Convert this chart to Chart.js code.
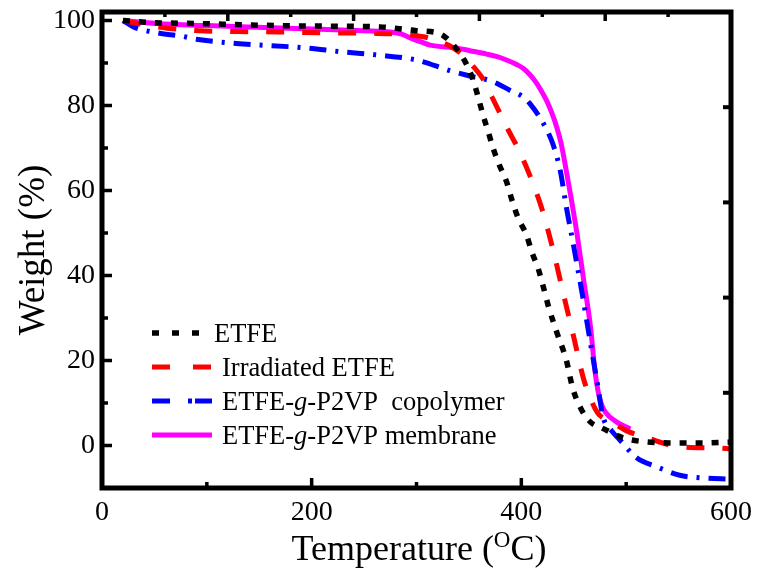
<!DOCTYPE html>
<html>
<head>
<meta charset="utf-8">
<script src="https://cdn.jsdelivr.net/npm/chart.js@4.4.0/dist/chart.umd.min.js"></script>
<style>
  html, body { margin: 0; padding: 0; background: #fff; }
  #wrap { width: 757px; height: 574px; position: relative; }
</style>
</head>
<body>
<div id="wrap"><canvas id="c"></canvas></div>
<script>
// ---- data (temperature in °C, weight in %) ----
const etfeT = [20, 50, 90, 150, 200, 265, 300, 322, 336, 346, 354, 359, 364, 368, 373, 379, 386, 391, 397, 405, 410, 416, 421, 426, 434, 443, 449, 457, 466, 477, 497, 513, 545, 575, 600];
const etfeW = [100, 99.5, 99.3, 98.9, 98.7, 98.5, 97.6, 96.9, 94, 90.5, 86, 81.8, 77.3, 74.2, 70, 66, 62, 57.8, 53.5, 49.5, 45.5, 41.7, 37.3, 32.6, 26.5, 20, 13.5, 8.6, 5.5, 4.1, 1.8, 1.0, 0.6, 0.6, 0.8];

const irrT = [20, 40, 62, 93, 128, 167, 210, 256, 294, 310, 322, 332, 342, 353, 364, 372, 380, 388, 396, 404, 411, 420, 431, 440, 450, 459, 466, 473, 480, 488, 500, 520, 551, 587, 600];
const irrW = [100, 99, 98.2, 97.6, 97.4, 97.3, 97.1, 97, 96.6, 96, 95, 94, 92.3, 89.5, 86, 82, 78, 74, 70.3, 66, 61.7, 55.4, 45.3, 35.8, 25.5, 16, 11, 7.6, 6.2, 5.2, 3.5, 1.8, -0.3, -0.6, -0.8];

const copT = [20, 30, 55, 74, 90, 128, 192, 230, 262, 300, 332, 350, 373, 389, 402, 408, 421, 430, 437, 443, 450, 458, 466, 472, 478, 486, 494, 510, 529, 551, 571, 600];
const copW = [100, 98.5, 97, 96.4, 95.6, 94.6, 93.6, 92.6, 91.9, 90.7, 88.2, 87, 85.6, 83.6, 82, 80.5, 75.8, 71, 64.8, 56, 46.8, 35.8, 24, 15.4, 6.7, 3.5, 1.3, -2.9, -5, -7, -7.6, -7.9];

const memT = [20, 52, 100, 148, 200, 250, 275, 286, 294, 306, 313, 339, 351, 367, 377, 387, 396, 402, 408, 413, 418, 424, 429, 434, 438, 443, 448, 453, 459, 466, 470, 473, 476, 480, 491, 504];
const memW = [100, 99.3, 98.8, 98.4, 98, 97.6, 97.3, 96.8, 95.9, 94.8, 94.2, 93.5, 92.9, 92.1, 91.5, 90.6, 89.6, 88.7, 87.3, 85.8, 83.9, 81.2, 78.3, 74.7, 71, 64.5, 57.5, 50, 39.7, 27.9, 18, 13, 10, 7.9, 5.5, 3.9];

const seriesNames = ['ETFE', 'Irradiated ETFE', 'ETFE-g-P2VP  copolymer', 'ETFE-g-P2VP membrane'];

// tick values
const xTicks = [0, 200, 400, 600];
const xMinorTicks = [100, 300, 500];
const yTicks = [0, 20, 40, 60, 80, 100];
const yMinorTicks = [10, 30, 50, 70, 90];
const topMajorTicks = [120, 240, 360, 480];
const topMinorTicks = [60, 180, 300, 420, 540];
const rightTicks = [12.4, 34.8, 57.2, 79.6];

const toXY = (T, W) => T.map((t, i) => ({ x: t, y: W[i] }));

const SERIF = "'Liberation Serif', 'Times New Roman', serif";

const styles = [
  { color: '#000000', width: 5.5, dash: [7, 9],  legendDash: [7, 13] },
  { color: '#ff0000', width: 5,   dash: [18, 18], legendDash: [18, 23] },
  { color: '#0000ff', width: 5,   dash: [17, 9, 3, 9], legendDash: [18, 18, 4, 3] },
  { color: '#ff00ff', width: 5,   dash: [], legendDash: [] }
];

const allData = [toXY(etfeT, etfeW), toXY(irrT, irrW), toXY(copT, copW), toXY(memT, memW)];

const datasets = allData.map((d, i) => ({
  label: seriesNames[i],
  data: d,
  borderColor: styles[i].color,
  backgroundColor: styles[i].color,
  borderWidth: styles[i].width,
  borderDash: styles[i].dash,
  borderCapStyle: 'butt',
  pointRadius: 0,
  fill: false,
  cubicInterpolationMode: 'monotone'
}));

const framePlugin = {
  id: 'frame',
  afterDatasetsDraw(chart) {
    const { ctx, chartArea: { left, right, top, bottom }, scales: { x, y } } = chart;
    ctx.save();
    ctx.strokeStyle = '#000';
    ctx.lineCap = 'butt';
    const seg = (x1, y1, x2, y2, w) => { ctx.lineWidth = w; ctx.beginPath(); ctx.moveTo(x1, y1); ctx.lineTo(x2, y2); ctx.stroke(); };
    xTicks.forEach(v => { const p = x.getPixelForValue(v); seg(p, bottom, p, bottom - 10, 3.5); });
    xMinorTicks.forEach(v => { const p = x.getPixelForValue(v); seg(p, bottom, p, bottom - 6, 3.5); });
    yTicks.forEach(v => { const p = y.getPixelForValue(v); seg(left, p, left + 10, p, 3.5); });
    yMinorTicks.forEach(v => { const p = y.getPixelForValue(v); seg(left, p, left + 6, p, 3.5); });
    topMajorTicks.forEach(v => { const p = x.getPixelForValue(v); seg(p, top, p, top + 9, 3.5); });
    topMinorTicks.forEach(v => { const p = x.getPixelForValue(v); seg(p, top, p, top + 5, 3.5); });
    rightTicks.forEach(v => { const p = y.getPixelForValue(v); seg(right, p, right - 8, p, 4); });
    ctx.lineWidth = 5;
    ctx.lineJoin = 'miter';
    ctx.strokeRect(left, top, right - left, bottom - top);
    ctx.restore();
  }
};

const legendPlugin = {
  id: 'innerLegend',
  afterDraw(chart) {
    const { ctx } = chart;
    const rows = [
      { y: 333, tx: 214, parts: [['ETFE', false]] },
      { y: 367, tx: 222, parts: [['Irradiated ETFE', false]] },
      { y: 401, tx: 222, parts: [['ETFE-', false], ['g', true], ['-P2VP  copolymer', false]] },
      { y: 435, tx: 222, parts: [['ETFE-', false], ['g', true], ['-P2VP membrane', false]] }
    ];
    ctx.save();
    rows.forEach((r, i) => {
      const s = styles[i];
      ctx.strokeStyle = s.color;
      ctx.lineWidth = s.width;
      ctx.lineCap = 'butt';
      ctx.setLineDash(s.legendDash);
      ctx.beginPath();
      ctx.moveTo(152, r.y);
      ctx.lineTo(212, r.y);
      ctx.stroke();
      ctx.setLineDash([]);
      ctx.fillStyle = '#000';
      ctx.textBaseline = 'alphabetic';
      ctx.textAlign = 'left';
      let xx = r.tx;
      r.parts.forEach(([t, it]) => {
        ctx.font = (it ? 'italic ' : '') + '26.5px ' + SERIF;
        ctx.fillText(t, xx, r.y + 9);
        xx += ctx.measureText(t).width;
      });
    });
    ctx.restore();
  }
};

const xTitlePlugin = {
  id: 'xTitle',
  afterDraw(chart) {
    const { ctx } = chart;
    ctx.save();
    ctx.fillStyle = '#000';
    ctx.textBaseline = 'alphabetic';
    ctx.textAlign = 'left';
    const big = '36px ' + SERIF, small = '23px ' + SERIF;
    const parts = [['Temperature (', big, 0], ['O', small, -13], ['C)', big, 0]];
    let total = 0;
    parts.forEach(([t, f]) => { ctx.font = f; total += ctx.measureText(t).width; });
    let xx = 419 - total / 2;
    const base = 560;
    parts.forEach(([t, f, dy]) => { ctx.font = f; ctx.fillText(t, xx, base + dy); xx += ctx.measureText(t).width; });
    ctx.restore();
  }
};

new Chart(document.getElementById('c'), {
  type: 'line',
  data: { datasets },
  options: {
    responsive: true,
    maintainAspectRatio: false,
    animation: false,
    devicePixelRatio: 1,
    layout: { padding: { top: 12, right: 26, left: 0, bottom: 0 } },
    plugins: { legend: { display: false }, tooltip: { enabled: false } },
    scales: {
      x: {
        type: 'linear',
        min: 0, max: 600,
        afterFit: s => { s.height = 86; s.paddingLeft = 0; s.paddingRight = 0; },
        afterBuildTicks: s => { s.ticks = xTicks.map(v => ({ value: v })); },
        grid: { display: false, drawTicks: false },
        border: { display: false },
        ticks: { color: '#000', padding: 8, maxRotation: 0, font: { family: SERIF, size: 28 } },
        title: { display: false }
      },
      y: {
        type: 'linear',
        min: -10, max: 102,
        afterFit: s => { s.width = 102; s.paddingTop = 0; s.paddingBottom = 0; },
        afterBuildTicks: s => { s.ticks = yTicks.map(v => ({ value: v })); },
        grid: { display: false, drawTicks: false },
        border: { display: false },
        ticks: { color: '#000', padding: 7, font: { family: SERIF, size: 28 } },
        title: { display: true, text: 'Weight (%)', color: '#000', padding: { top: 12, bottom: 0 }, font: { family: SERIF, size: 37 } }
      }
    }
  },
  plugins: [framePlugin, legendPlugin, xTitlePlugin]
});
</script>
</body>
</html>
